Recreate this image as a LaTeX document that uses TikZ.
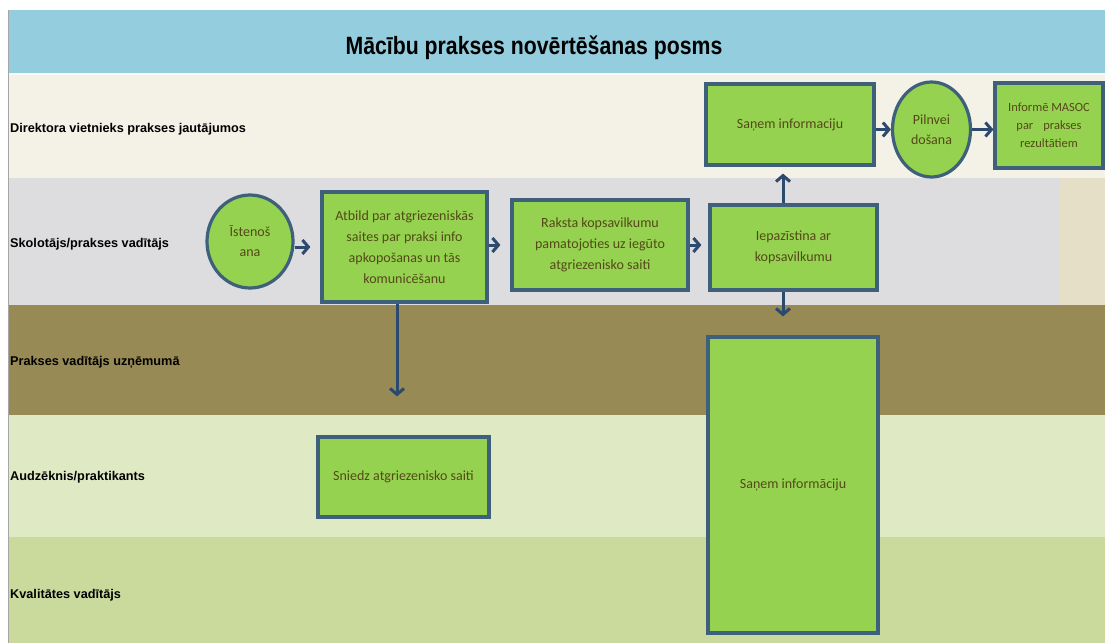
\documentclass[tikz,border=0pt]{standalone}
\usepackage{fontspec}
\setmainfont{Carlito}
\newfontfamily\lanefont{Liberation Sans}
\newfontfamily\titlefont[FakeStretch=0.85]{Liberation Sans}
\usetikzlibrary{arrows.meta,shapes.geometric}
\definecolor{titleblue}{RGB}{147,205,222}
\definecolor{laneA}{RGB}{244,241,230}
\definecolor{laneB}{RGB}{221,221,223}
\definecolor{laneBb}{RGB}{230,223,200}
\definecolor{laneC}{RGB}{151,138,84}
\definecolor{laneD}{RGB}{223,233,195}
\definecolor{laneE}{RGB}{201,218,156}
\definecolor{boxgreen}{RGB}{148,210,80}
\definecolor{boxborder}{RGB}{62,96,122}
\definecolor{arrowblue}{RGB}{44,74,110}
\definecolor{boxtext}{RGB}{85,72,25}
\begin{document}
\begin{tikzpicture}[x=1pt,y=-1pt,
  box/.style={draw=boxborder, line width=3.2pt, fill=boxgreen, text=boxtext,
    font=\fontsize{14}{21}\selectfont, align=center, inner sep=0pt},
  oval/.style={ellipse, draw=boxborder, line width=3.2pt, fill=boxgreen, text=boxtext,
    font=\fontsize{14}{20}\selectfont, align=center, inner sep=0pt},
  lanelabel/.style={anchor=west, font=\lanefont\bfseries\fontsize{12.7}{15}\selectfont, inner sep=0pt},
  arr/.style={draw=arrowblue, line width=3pt, -{Straight Barb[length=6pt,width=14pt]}}
]
\useasboundingbox (0,0) rectangle (1105,643);
\fill[white] (0,0) rectangle (1105,643);
% bands
\fill[titleblue] (8,10) rectangle (1105,73);
\fill[white!60!laneA] (8,73) rectangle (1105,75);
\fill[laneA] (8,75) rectangle (1105,178);
\fill[laneB] (8,178) rectangle (1059,305);
\fill[laneBb] (1059,178) rectangle (1105,305);
\fill[laneC] (8,305) rectangle (1105,415);
\fill[laneD] (8,415) rectangle (1105,537);
\fill[laneE] (8,537) rectangle (1105,643);
\draw[black!35, line width=1pt] (8,10) -- (8,643);

% title
\node[font=\titlefont\bfseries\fontsize{25}{30}\selectfont, inner sep=0pt] (title) at (534,48) {Mācību prakses novērtēšanas posms};

% lane labels
\node[lanelabel] (l1) at (10,129) {Direktora vietnieks prakses jautājumos};
\node[lanelabel] (l2) at (10,244) {Skolotājs/prakses vadītājs};
\node[lanelabel] (l3) at (10,362) {Prakses vadītājs uzņēmumā};
\node[lanelabel] (l4) at (10,477) {Audzēknis/praktikants};
\node[lanelabel] (l5) at (10,595) {Kvalitātes vadītājs};

% nodes
\node[oval, minimum width=86pt, minimum height=93pt] (ist) at (250,241.5) {Īstenoš\\ana};
\node[box, minimum width=165pt, minimum height=110pt] (atb) at (404.5,247) {Atbild par atgriezeniskās\\saites par praksi info\\apkopošanas un tās\\komunicēšanu};
\node[box, minimum width=176pt, minimum height=90pt] (rak) at (600,245) {Raksta kopsavilkumu\\pamatojoties uz iegūto\\atgriezenisko saiti};
\node[box, minimum width=167pt, minimum height=85pt] (iep) at (793.5,247.5) {Iepazīstina ar\\kopsavilkumu};
\node[box, minimum width=168pt, minimum height=81pt] (san1) at (790,124.5) {Saņem informaciju};
\node[oval, minimum width=78pt, minimum height=95pt] (pil) at (931.5,129.5) {Pilnvei\\došana};
\node[box, minimum width=108pt, minimum height=85pt, font=\fontsize{12.5}{18}\selectfont] (inf) at (1049,125.5) {Informē MASOC\\par\hspace{0.8em}prakses\\rezultātiem};
\node[box, minimum width=170pt, minimum height=296pt] (big) at (793,485) {Saņem informāciju};
\node[box, minimum width=171pt, minimum height=80pt] (sni) at (403.5,477) {Sniedz atgriezenisko saiti};

% connectors
\draw[arr, shorten >=10pt] (ist.east |- atb) -- (atb.west);
\draw[arr, shorten >=10pt] (atb.east |- rak) -- (rak.west);
\draw[arr, shorten >=7pt] (rak.east) -- (rak.east -| iep.west);
\draw[arr] (san1.east |- pil) -- (pil.west);
\draw[arr] (pil.east) -- (pil.east -| inf.west);
\draw[arr, shorten >=7pt] ([xshift=-10.5pt]iep.north) -- ([xshift=-10.5pt]iep.north |- san1.south);
\draw[arr, shorten >=19pt] ([xshift=-10.5pt]iep.south) -- ([xshift=-10.5pt]iep.south |- big.north);
\draw[arr, shorten >=39pt] ([xshift=-7.5pt]atb.south) -- ([xshift=-7.5pt]atb.south |- sni.north);
\end{tikzpicture}
\end{document}
